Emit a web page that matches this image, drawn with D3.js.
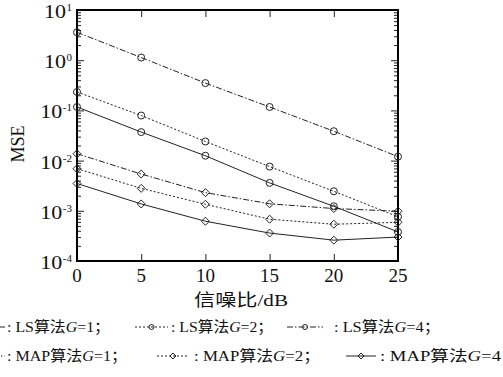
<!DOCTYPE html>
<html>
<head>
<meta charset="utf-8">
<script src="https://cdn.jsdelivr.net/npm/d3@7/dist/d3.min.js"></script>
<style>
  body { margin: 0; background: #fff; }
  text { font-family: "Liberation Serif", "Noto Sans CJK SC", serif; fill: #111; }
</style>
</head>
<body>
<div id="chart"></div>
<script>
const snr = [0, 5, 10, 15, 20, 25]
const xTicks = [0, 5, 10, 15, 20, 25]
const yDecades = [1e-4, 1e-3, 1e-2, 1e-1, 1e0, 1e1]
const yExps = ["-4", "-3", "-2", "-1", "0", "1"]

const lsG1  = [0.117, 0.037, 0.0125, 0.0036, 0.00123, 0.00038]
const lsG2  = [0.233, 0.079, 0.024, 0.0076, 0.00245, 0.00076]
const lsG4  = [3.6, 1.13, 0.35, 0.117, 0.0385, 0.012]
const mapG1 = [0.0137, 0.0054, 0.0023, 0.00138, 0.00111, 0.00098]
const mapG2 = [0.0069, 0.0028, 0.00135, 0.00068, 0.00054, 0.00059]
const mapG4 = [0.0035, 0.00137, 0.00062, 0.00036, 0.00026, 0.0003]

const series = [
  { name: "LS算法", g: "1", values: lsG1, dash: null, marker: "circle" },
  { name: "LS算法", g: "2", values: lsG2, dash: "2,2", marker: "circle" },
  { name: "LS算法", g: "4", values: lsG4, dash: "6,2,1.5,2", marker: "circle" },
  { name: "MAP算法", g: "1", values: mapG1, dash: "6,2,1.5,2", marker: "diamond" },
  { name: "MAP算法", g: "2", values: mapG2, dash: "2,2", marker: "diamond" },
  { name: "MAP算法", g: "4", values: mapG4, dash: null, marker: "diamond" }
]

const margin = { top: 10, left: 77, right: 105, bottom: 116 },
      width = 503 - margin.left - margin.right,
      height = 377 - margin.top - margin.bottom

const svg = d3.select("#chart").append("svg")
  .attr("width", 503).attr("height", 377)
const plot = svg.append("g")
  .attr("transform", "translate(" + margin.left + "," + margin.top + ")")

const x = d3.scaleLinear().domain([0, 25]).range([0, width])
const y = d3.scaleLog().domain([1e-4, 10]).range([height, 0])

// minor ticks on both sides
const minors = []
for (let e = -4; e < 1; e++) for (let k = 2; k <= 9; k++) minors.push(k * Math.pow(10, e))

const ink = "#222"
plot.append("g").call(d3.axisLeft(y).tickValues(minors).tickSize(-4).tickFormat(""))
plot.append("g").attr("transform", "translate(" + width + ",0)")
  .call(d3.axisRight(y).tickValues(minors).tickSize(-4).tickFormat(""))
plot.append("g").call(d3.axisLeft(y).tickValues(yDecades).tickSize(-7).tickFormat(""))
plot.append("g").attr("transform", "translate(" + width + ",0)")
  .call(d3.axisRight(y).tickValues(yDecades).tickSize(-7).tickFormat(""))
plot.append("g").attr("transform", "translate(0," + height + ")")
  .call(d3.axisBottom(x).tickValues(xTicks).tickSize(-7).tickFormat(""))
plot.append("g").call(d3.axisTop(x).tickValues(xTicks).tickSize(-7).tickFormat(""))
plot.selectAll(".domain").remove()
plot.selectAll(".tick line").attr("stroke", ink).attr("stroke-width", 1)

// frame
plot.append("rect").attr("width", width).attr("height", height)
  .attr("fill", "none").attr("stroke", "#000").attr("stroke-width", 2)

// y tick labels 10^n, right aligned just left of the axis
yDecades.forEach(function(v, i) {
  const ex = plot.append("text").attr("x", -5).attr("y", y(v) + 1)
    .attr("text-anchor", "end").style("font-size", "11px").text(yExps[i])
  const w = ex.node().getComputedTextLength()
  plot.append("text").attr("x", -5 - w - 0.5).attr("y", y(v) + 8)
    .attr("text-anchor", "end")
    .attr("textLength", 22).attr("lengthAdjust", "spacingAndGlyphs")
    .style("font-size", "19px").text("10")
})
xTicks.forEach(function(v) {
  plot.append("text").attr("x", x(v)).attr("y", height + 21)
    .attr("text-anchor", "middle").style("font-size", "19px").text(v)
})
svg.append("text").attr("transform", "translate(24," + 144 + ") rotate(-90)")
  .attr("text-anchor", "middle").style("font-size", "18px").text("MSE")
svg.append("text").attr("x", 194).attr("y", 306)
  .attr("textLength", 94).attr("lengthAdjust", "spacingAndGlyphs")
  .style("font-size", "17px").text("信噪比/dB")

const line = d3.line().x(function(d, i) { return x(snr[i]) }).y(function(d) { return y(d) })
const diamond = function(cx, cy, r) {
  return "M" + cx + "," + (cy - r) + "L" + (cx + r) + "," + cy + "L" + cx + "," + (cy + r) + "L" + (cx - r) + "," + cy + "Z"
}
function drawMarker(g, m, cx, cy, r) {
  if (m === "circle") g.append("circle").attr("cx", cx).attr("cy", cy).attr("r", r)
    .attr("fill", "none").attr("stroke", ink).attr("stroke-width", 1)
  else g.append("path").attr("d", diamond(cx, cy, r + 0.5))
    .attr("fill", "none").attr("stroke", ink).attr("stroke-width", 1)
}

series.forEach(function(s) {
  plot.append("path").datum(s.values).attr("d", line)
    .attr("fill", "none").attr("stroke", ink).attr("stroke-width", 1)
    .attr("stroke-dasharray", s.dash)
  const g = plot.append("g")
  s.values.forEach(function(v, i) { drawMarker(g, s.marker, x(snr[i]), y(v), 3.5) })
})

// legend, laid out as in the figure (wider than the page)
const legendPos = [
  { sx: -30, ex: 5, tx: 7, len: 103, ty: 332 },
  { sx: 135, ex: 168, tx: 171, len: 102, ty: 332 },
  { sx: 287, ex: 323, tx: 334, len: 106, ty: 332 },
  { sx: -30, ex: 5, tx: 7, len: 120, ty: 361 },
  { sx: 157, ex: 189, tx: 194, len: 126, ty: 361 },
  { sx: 346, ex: 376, tx: 380, len: 121, ty: 361 }
]
series.forEach(function(s, i) {
  const p = legendPos[i]
  const g = svg.append("g")
  g.append("line").attr("x1", p.sx).attr("x2", p.ex).attr("y1", p.ty - 5).attr("y2", p.ty - 5)
    .attr("stroke", ink).attr("stroke-width", 1).attr("stroke-dasharray", s.dash)
  drawMarker(g, s.marker, (p.sx + p.ex) / 2, p.ty - 5, 2.5)
  const t = g.append("text").attr("x", p.tx).attr("y", p.ty).style("font-size", "15px")
    .attr("textLength", p.len).attr("lengthAdjust", "spacingAndGlyphs")
  t.append("tspan").text(": " + s.name)
  t.append("tspan").style("font-style", "italic").text("G")
  t.append("tspan").text("=" + s.g + (i === 5 ? "" : "；"))
})
</script>
</body>
</html>
